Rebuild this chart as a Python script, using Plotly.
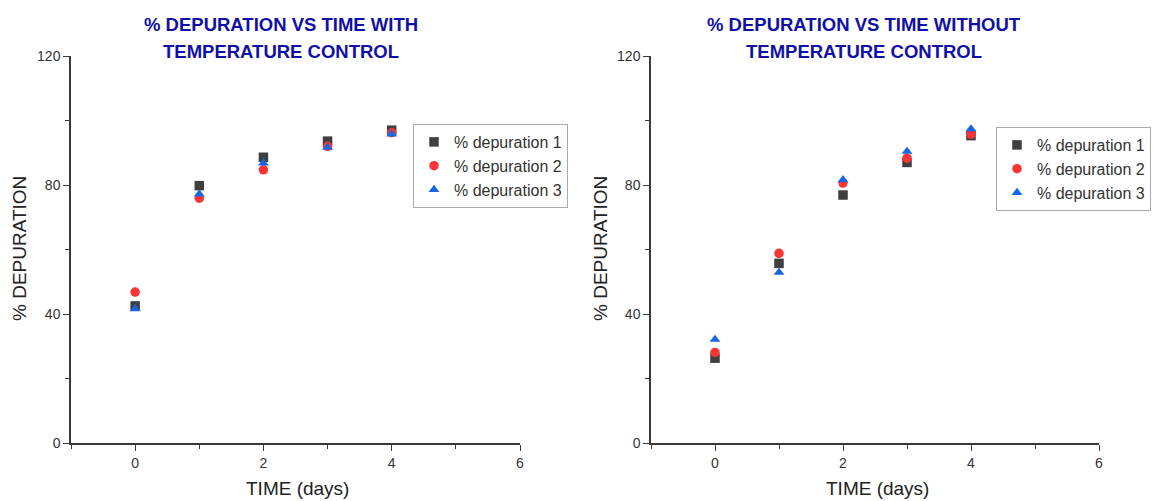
import plotly.graph_objects as go

days = [0, 1, 2, 3, 4]

# With temperature control
with_dep1 = [42.5, 79.8, 88.6, 93.6, 97.0]
with_dep2 = [46.8, 75.9, 84.7, 92.0, 96.2]
with_dep3 = [41.6, 77.2, 86.8, 91.7, 95.8]

# Without temperature control
without_dep1 = [26.3, 55.7, 76.9, 87.0, 95.3]
without_dep2 = [28.1, 58.8, 80.6, 88.3, 95.8]
without_dep3 = [32.1, 52.9, 81.6, 90.4, 97.4]

series_names = ["% depuration 1", "% depuration 2", "% depuration 3"]
title_lines = [["% DEPURATION VS TIME WITH", "TEMPERATURE CONTROL"],
               ["% DEPURATION VS TIME WITHOUT", "TEMPERATURE CONTROL"]]

FONT = "Arial, Liberation Sans, sans-serif"
symbols = ["square", "circle", "triangle-up"]
colors = ["#3f3f3f", "#f83434", "#1a66e0"]

fig = go.Figure()
for panel, (data, xa, ya, lg) in enumerate([
        ([with_dep1, with_dep2, with_dep3], "x", "y", "legend"),
        ([without_dep1, without_dep2, without_dep3], "x2", "y2", "legend2")]):
    for i, vals in enumerate(data):
        fig.add_trace(go.Scatter(
            x=days, y=vals, mode="markers", name=series_names[i],
            xaxis=xa, yaxis=ya, legend=lg,
            marker=dict(symbol=symbols[i], color=colors[i], size=9.5,
                        line=dict(width=0)),
        ))

ax_common = dict(
    showline=True, linecolor="#3a3a3a", linewidth=1.5, mirror=False,
    showgrid=False, zeroline=False, ticks="outside", ticklen=6, tickwidth=1.2,
    tickcolor="#3a3a3a", tickfont=dict(family=FONT, size=14, color="#333333"),
    automargin=False,
)
xax = dict(ax_common, range=[-1, 6], dtick=2, tick0=0,
           minor=dict(ticks="outside", dtick=1, tick0=0, ticklen=4, tickcolor="#3a3a3a"))
yax = dict(ax_common, range=[0, 120], dtick=40, tick0=0,
           minor=dict(ticks="outside", dtick=20, tick0=0, ticklen=4, tickcolor="#3a3a3a"))

y_dom = [58 / 501, 445 / 501]
legend_style = dict(font=dict(family=FONT, size=16, color="#333333"),
                    bgcolor="white", bordercolor="#aaaaaa", borderwidth=1,
                    xanchor="left", yanchor="top", tracegroupgap=0, itemwidth=30)

fig.update_layout(
    width=1154, height=501,
    margin=dict(l=0, r=0, t=0, b=0, autoexpand=False),
    paper_bgcolor="white", plot_bgcolor="white",
    xaxis=dict(xax, domain=[71 / 1154, 520 / 1154], anchor="y"),
    yaxis=dict(yax, domain=y_dom, anchor="x"),
    xaxis2=dict(xax, domain=[651 / 1154, 1099 / 1154], anchor="y2"),
    yaxis2=dict(yax, domain=y_dom, anchor="x2"),
    legend=dict(legend_style, x=413 / 1154, y=1 - 124 / 501),
    legend2=dict(legend_style, x=996 / 1154, y=1 - 127 / 501),
    showlegend=True,
)

annotations = []
for cx, lines in zip([281 / 1154, 864 / 1154], title_lines):
    for ly, line in zip([25, 52], lines):
        annotations.append(dict(text="<b>" + line + "</b>", x=cx, y=1 - ly / 501,
                                xref="paper", yref="paper", xanchor="center", yanchor="middle",
                                showarrow=False, font=dict(family=FONT, size=18.5, color="#1010a8")))
for cx in [297 / 1154, 877 / 1154]:
    annotations.append(dict(text="TIME (days)", x=cx, y=1 - 488 / 501,
                            xref="paper", yref="paper", xanchor="center", yanchor="middle",
                            showarrow=False, font=dict(family=FONT, size=19, color="#222222")))
for cx in [19 / 1154, 600 / 1154]:
    annotations.append(dict(text="% DEPURATION", x=cx, y=1 - 249 / 501, textangle=-90,
                            xref="paper", yref="paper", xanchor="center", yanchor="middle",
                            showarrow=False, font=dict(family=FONT, size=19, color="#222222")))
fig.update_layout(annotations=annotations)

fig.write_html("out.html")
